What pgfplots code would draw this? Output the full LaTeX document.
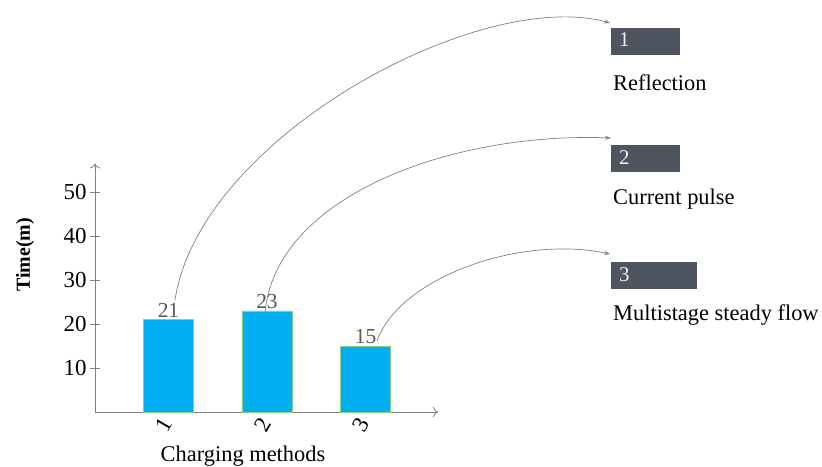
\documentclass[border=0pt]{standalone}
\usepackage{fontspec}
\setmainfont{Liberation Serif}
\usepackage{pgfplots}
\pgfplotsset{compat=1.18}
\usetikzlibrary{arrows.meta}
\definecolor{barblue}{HTML}{00B0F0}
\definecolor{baredge}{HTML}{8ED08A}
\definecolor{axgray}{HTML}{808080}
\definecolor{boxgray}{HTML}{4E5561}
\definecolor{lblgray}{HTML}{595959}
\begin{document}
\begin{tikzpicture}
\useasboundingbox (0,0) rectangle (822bp,467bp);
\begin{axis}[
  at={(95bp,55bp)}, anchor=south west,
  scale only axis, width=343bp, height=248.5bp,
  xmin=0.254, xmax=3.736, ymin=0, ymax=56.5,
  axis lines=left,
  axis line style={draw=axgray, line width=0.8pt, -{To[length=5pt,width=10pt]}},
  ybar, bar width=0.508,
  xtick={1,2,3}, xticklabels={1,2,3},
  xtick style={draw=none},
  ytick={10,20,30,40,50},
  ytick style={draw=axgray, line width=0.8pt},
  major tick length=10bp, tick align=center,
  tick label style={font=\fontsize{23}{27}\selectfont, text=black},
  /pgf/number format/assume math mode=true,
  xticklabel style={rotate=60, anchor=east},
  yticklabel style={anchor=east},
  nodes near coords,
  nodes near coords style={font=\fontsize{21.5}{26}\selectfont, text=lblgray, inner sep=2pt, anchor=south},
  clip=false,
]
\addplot[fill=barblue, draw=baredge, line width=0.5pt] coordinates {(1,21) (2,23) (3,15)};
\end{axis}
\begin{scope}[x=1bp,y=1bp]
\draw[axgray, line width=0.7pt, -{Stealth[length=6pt,width=4pt]}] (175,167) .. controls (200,330) and (480,480) .. (610,444);
\draw[axgray, line width=0.7pt, -{Stealth[length=6pt,width=4pt]}] (265,154) .. controls (275,270) and (450,335) .. (611,329);
\draw[axgray, line width=0.7pt, -{Stealth[length=6pt,width=4pt]}] (377,126) .. controls (400,190) and (520,232) .. (610,213);
\fill[boxgray] (611,412) rectangle (680,439);
\fill[boxgray] (611,295) rectangle (680,322);
\fill[boxgray] (611,178) rectangle (697,205);
\node[anchor=base west, inner sep=0pt, text=white!88!gray, font=\fontsize{21}{24}\selectfont] at (619,420) {1};
\node[anchor=base west, inner sep=0pt, text=white!88!gray, font=\fontsize{21}{24}\selectfont] at (619,303) {2};
\node[anchor=base west, inner sep=0pt, text=white!88!gray, font=\fontsize{21}{24}\selectfont] at (619,186) {3};
\node[anchor=base west, inner sep=0pt, font=\fontsize{22.5}{27}\selectfont] at (613,377) {Reflection};
\node[anchor=base west, inner sep=0pt, font=\fontsize{22.5}{27}\selectfont] at (613,263) {Current pulse};
\node[anchor=base west, inner sep=0pt, font=\fontsize{22.5}{27}\selectfont] at (613,147) {Multistage steady flow};
\node[rotate=90, inner sep=0pt, font=\bfseries\fontsize{20}{24}\selectfont] at (25,212) {Time(m)};
\node[anchor=base, inner sep=0pt, font=\fontsize{22.5}{27}\selectfont] at (243,6) {Charging methods};
\end{scope}
\end{tikzpicture}
\end{document}
